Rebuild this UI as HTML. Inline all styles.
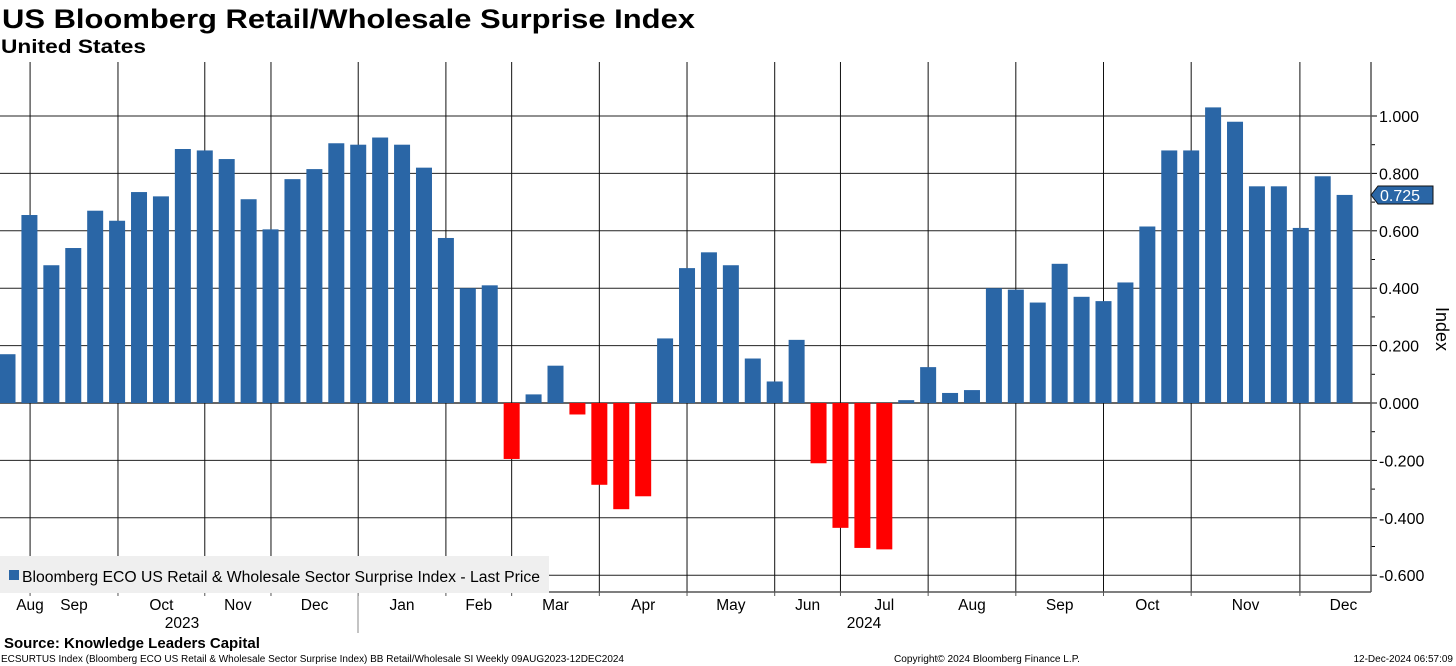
<!DOCTYPE html>
<html><head><meta charset="utf-8"><style>
html,body{margin:0;padding:0;background:#fff;}
svg{display:block;font-family:"Liberation Sans","DejaVu Sans",sans-serif;}
</style></head><body>
<svg id="chart" width="1456" height="666" viewBox="0 0 1456 666" xmlns="http://www.w3.org/2000/svg">
<text x="2" y="28" font-size="27" font-weight="bold" textLength="693" lengthAdjust="spacingAndGlyphs">US Bloomberg Retail/Wholesale Surprise Index</text>
<text x="1" y="53" font-size="19" font-weight="bold" textLength="145" lengthAdjust="spacingAndGlyphs">United States</text>
<g id="grid"></g>
<g id="bars"></g>
<g id="axes"></g>
<g>
<rect x="0" y="556" width="549" height="37" fill="#efefef"/>
<rect x="9" y="570" width="10" height="10" fill="#2a66a6"/>
<text x="22" y="582" font-size="15.5" textLength="518" lengthAdjust="spacingAndGlyphs">Bloomberg ECO US Retail &amp; Wholesale Sector Surprise Index - Last Price</text>
</g>
<text transform="translate(1436,329) rotate(90)" font-size="18" text-anchor="middle">Index</text>
<g>
<polygon points="1371,195 1378,186 1433,186 1433,204 1378,204" fill="#2a66a6" stroke="#111" stroke-width="1"/>
<text x="1380" y="201" font-size="16" fill="#fff">0.725</text>
</g>
<text x="4" y="648" font-size="15" font-weight="bold">Source: Knowledge Leaders Capital</text>
<text x="1" y="662" font-size="10" textLength="623" lengthAdjust="spacingAndGlyphs">ECSURTUS Index (Bloomberg ECO US Retail &amp; Wholesale Sector Surprise Index) BB Retail/Wholesale SI  Weekly 09AUG2023-12DEC2024</text>
<text x="894" y="662" font-size="10" textLength="186" lengthAdjust="spacingAndGlyphs">Copyright© 2024 Bloomberg Finance L.P.</text>
<text x="1453" y="662" font-size="10" text-anchor="end">12-Dec-2024 06:57:09</text>
</svg>
<script>
const values = [0.17,0.655,0.48,0.54,0.67,0.635,0.735,0.72,0.885,0.88,0.85,0.71,0.605,0.78,0.815,0.905,0.90,0.925,0.90,0.82,0.575,0.40,0.41,-0.195,0.03,0.13,-0.04,-0.285,-0.37,-0.325,0.225,0.47,0.525,0.48,0.155,0.075,0.22,-0.21,-0.435,-0.505,-0.51,0.01,0.125,0.035,0.045,0.40,0.395,0.35,0.485,0.37,0.355,0.42,0.615,0.88,0.88,1.03,0.98,0.755,0.755,0.61,0.79,0.725];
const yTicks = [-0.6,-0.4,-0.2,0,0.2,0.4,0.6,0.8,1.0];
const monthLabels = ["Aug","Sep","Oct","Nov","Dec","Jan","Feb","Mar","Apr","May","Jun","Jul","Aug","Sep","Oct","Nov","Dec"];
const monthBounds = [1.03,5.04,9.0,12.02,16.0,20.0,23.0,27.0,31.0,35.0,38.0,42.0,46.0,50.0,54.0,58.96];
const NS="http://www.w3.org/2000/svg";
const PL=0,PR=1371,PT=62,PB=592;
function y(v){return 403-287*v;}
function x(i){return 7.5+i*21.92;}
function mk(tag,attrs,parent){const e=document.createElementNS(NS,tag);for(const k in attrs)e.setAttribute(k,attrs[k]);parent.appendChild(e);return e;}
const grid=document.getElementById('grid'),bars=document.getElementById('bars'),axes=document.getElementById('axes');
yTicks.forEach(t=>{
  const l=mk('line',{x1:PL,x2:PR,y1:y(t),y2:y(t),stroke:t===0?'#333':'#222','stroke-width':t===0?1.5:1},grid);
  
  
  const tk=mk('line',{x1:PR,x2:PR+6,y1:y(t),y2:y(t),stroke:'#000'},axes);
  
  
  const tx=mk('text',{x:PR+8,y:y(t)+6,'font-size':16},axes);
  tx.textContent=t.toFixed(3);
  
  
});
for(let k=0;k<8;k++){const v=-0.5+k*0.2;const m=mk('line',{x1:PR,x2:PR+4,y1:y(v),y2:y(v),stroke:'#000'},axes);
  
  }
const bx=monthBounds.map(b=>x(b));
bx.forEach(px=>{
  const l=mk('line',{x1:px,x2:px,y1:PT,y2:PB,stroke:'#111','stroke-width':1},grid);
  
  
});
values.forEach((v,i)=>{
  const top=Math.min(y(v),y(0)),h=Math.abs(y(v)-y(0));
  const r=mk('rect',{x:x(i)-8,y:top,width:16,height:Math.max(h,1),fill:v>=0?'#2a66a6':'#ff0000'},bars);
  
  
});
mk('line',{x1:PR,x2:PR,y1:PT,y2:PB,stroke:'#555','stroke-width':1.5},axes);
mk('line',{x1:0,x2:PR,y1:PB,y2:PB,stroke:'#555','stroke-width':1.5},axes);
const edges=[0].concat(bx).concat([PR]);
monthLabels.forEach((m,i)=>{
  let cx=(edges[i]+edges[i+1])/2;
  if(i===0)cx=Math.max(cx,30);
  if(i===monthLabels.length-1)cx+=8;
  const t=mk('text',{x:cx,y:610,'font-size':15.5,'text-anchor':'middle'},axes);
  t.textContent=m;
  
  
});
bx.forEach(px=>{mk('line',{x1:px,x2:px,y1:PB,y2:PB+4,stroke:'#555'},axes);});
const y1=mk('text',{x:182,y:628,'font-size':15.5,'text-anchor':'middle'},axes);y1.textContent='2023';


const y2=mk('text',{x:864,y:628,'font-size':15.5,'text-anchor':'middle'},axes);y2.textContent='2024';


mk('line',{x1:358,x2:358,y1:PB,y2:633,stroke:'#888'},axes);
</script>
</body></html>
